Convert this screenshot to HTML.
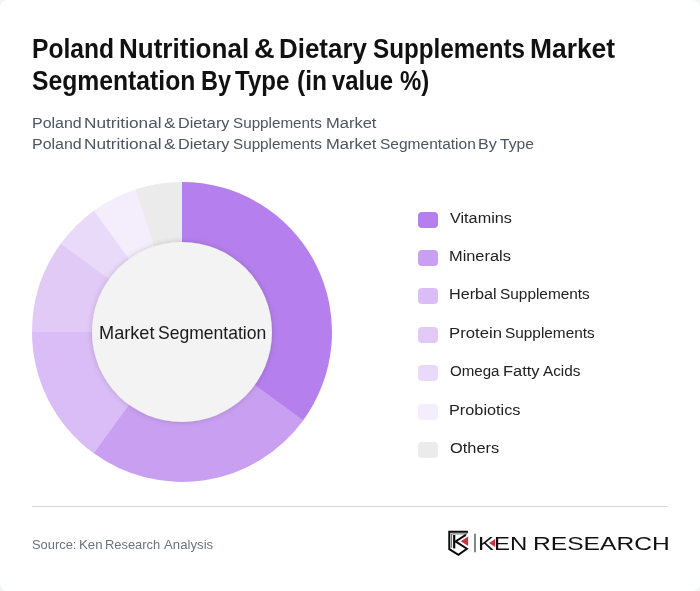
<!DOCTYPE html>
<html lang="en">
<head>
<meta charset="utf-8">
<title>Poland Nutritional &amp; Dietary Supplements Market Segmentation By Type</title>
<style>
  html,body{margin:0;padding:0;}
  body{width:700px;height:591px;background:#f3f4f6;overflow:hidden;font-family:"Liberation Sans",sans-serif;}
  .card{position:absolute;left:0;top:0;width:700px;height:591px;background:#fff;border-radius:8px;overflow:hidden;}
  h1,p,ul,li{margin:0;padding:0;list-style:none;font-size:inherit;font-weight:inherit;}
  .w{position:absolute;line-height:1;white-space:nowrap;transform-origin:0 0;}
  .title .w{font-size:27.5px;font-weight:700;color:#111;}
  .sub .w{font-size:15.5px;color:#4b5563;}
  .center .w{font-size:18.5px;color:#1a1a1a;}
  .legend .w{font-size:15.5px;color:#222;}
  .src .w{font-size:13.5px;color:#6b7280;}
  .brand .w{font-size:18.6px;color:#111;}
  .sw{position:absolute;left:418px;width:20px;height:16px;border-radius:4px;}
  .chart{position:absolute;left:0;top:0;}
  .hr{position:absolute;left:32px;top:506px;width:636px;height:1px;background:#d5d8de;}
  .logo{position:absolute;left:440px;top:520px;}
</style>
</head>
<body>
<div class="card">
  <h1 class="title"><span class="w" style="left:32.03px;top:35.0px;transform:scaleX(0.8955)">Poland</span> <span class="w" style="left:119.34px;top:35.0px;transform:scaleX(0.9465)">Nutritional</span> <span class="w" style="left:254.3px;top:35.0px;transform:scaleX(1.0366)">&amp;</span> <span class="w" style="left:279.35px;top:35.0px;transform:scaleX(0.9425)">Dietary</span> <span class="w" style="left:373.34px;top:35.0px;transform:scaleX(0.8808)">Supplements</span> <span class="w" style="left:530.32px;top:35.0px;transform:scaleX(0.9595)">Market</span>
    <span class="w" style="left:32.33px;top:67.0px;transform:scaleX(0.8982)">Segmentation</span> <span class="w" style="left:200.51px;top:67.0px;transform:scaleX(0.8541)">By</span> <span class="w" style="left:235.38px;top:67.0px;transform:scaleX(0.8754)">Type</span> <span class="w" style="left:297.06px;top:67.0px;transform:scaleX(0.8918)">(in</span> <span class="w" style="left:332.38px;top:67.0px;transform:scaleX(0.8667)">value</span> <span class="w" style="left:400.35px;top:67.0px;transform:scaleX(0.8698)">%)</span></h1>
  <p class="sub"><span class="w" style="left:31.81px;top:115.0px;transform:scaleX(1.0304)">Poland</span> <span class="w" style="left:83.61px;top:115.0px;transform:scaleX(1.1111)">Nutritional</span> <span class="w" style="left:163.95px;top:115.0px;transform:scaleX(1.1053)">&amp;</span> <span class="w" style="left:177.69px;top:115.0px;transform:scaleX(1.0471)">Dietary</span> <span class="w" style="left:233.26px;top:115.0px;transform:scaleX(0.9826)">Supplements</span> <span class="w" style="left:325.67px;top:115.0px;transform:scaleX(1.0652)">Market</span></p>
  <p class="sub"><span class="w" style="left:31.81px;top:136.0px;transform:scaleX(1.0304)">Poland</span> <span class="w" style="left:83.61px;top:136.0px;transform:scaleX(1.1111)">Nutritional</span> <span class="w" style="left:163.95px;top:136.0px;transform:scaleX(1.1053)">&amp;</span> <span class="w" style="left:177.69px;top:136.0px;transform:scaleX(1.0471)">Dietary</span> <span class="w" style="left:233.26px;top:136.0px;transform:scaleX(0.9826)">Supplements</span> <span class="w" style="left:325.67px;top:136.0px;transform:scaleX(1.0652)">Market</span> <span class="w" style="left:379.85px;top:136.0px;transform:scaleX(1.0016)">Segmentation</span> <span class="w" style="left:478.3px;top:136.0px;transform:scaleX(1.0388)">By</span> <span class="w" style="left:499.75px;top:136.0px;transform:scaleX(1.0076)">Type</span></p>

  <svg class="chart" width="700" height="591" viewBox="0 0 700 591">
    <defs>
      <filter id="sh" x="-20%" y="-20%" width="140%" height="140%">
        <feGaussianBlur in="SourceAlpha" stdDeviation="3"/>
        <feComponentTransfer><feFuncA type="linear" slope="0.18"/></feComponentTransfer>
        <feMerge><feMergeNode/><feMergeNode in="SourceGraphic"/></feMerge>
      </filter>
    </defs>
    <g>
      <path d="M180.69 182.01A150 150 0 0 1 302.58 421.22L252.74 384.34A88 88 0 0 0 181.23 244.00Z" fill="#b580ed"/>
      <path d="M303.35 420.17A150 150 0 0 1 92.78 452.58L129.66 402.74A88 88 0 0 0 253.19 383.73Z" fill="#c9a0f1"/>
      <path d="M93.83 453.35A150 150 0 0 1 32.01 330.69L94.00 331.23A88 88 0 0 0 130.27 403.19Z" fill="#dabdf6"/>
      <path d="M32.00 332.00A150 150 0 0 1 61.42 242.78L111.26 279.66A88 88 0 0 0 94.00 332.00Z" fill="#e2caf7"/>
      <path d="M60.65 243.83A150 150 0 0 1 94.89 209.88L130.90 260.36A88 88 0 0 0 110.81 280.27Z" fill="#eadafa"/>
      <path d="M93.83 210.65A150 150 0 0 1 136.89 188.94L155.54 248.07A88 88 0 0 0 130.27 260.81Z" fill="#f4edfc"/>
      <path d="M135.65 189.34A150 150 0 0 1 182.00 182.00L182.00 244.00A88 88 0 0 0 154.81 248.31Z" fill="#ebebeb"/>
    </g>
    <circle cx="182" cy="332" r="90" fill="#f3f3f3" filter="url(#sh)"/>
  </svg>
  <div class="center"><span class="w" style="left:98.53px;top:324.0px;transform:scaleX(0.9818)">Market</span> <span class="w" style="left:157.85px;top:324.0px;transform:scaleX(0.9482)">Segmentation</span></div>

  <ul class="legend">
    <li><i class="sw" style="top:212px;background:#b580ed"></i><span class="w" style="left:450.24px;top:210.0px;transform:scaleX(1.0455)">Vitamins</span></li>
    <li><i class="sw" style="top:250px;background:#c9a0f1"></i><span class="w" style="left:449.38px;top:248.0px;transform:scaleX(1.0555)">Minerals</span></li>
    <li><i class="sw" style="top:288px;background:#dabdf6"></i><span class="w" style="left:449.49px;top:286.0px;transform:scaleX(1.0451)">Herbal</span> <span class="w" style="left:499.86px;top:286.0px;transform:scaleX(0.9927)">Supplements</span></li>
    <li><i class="sw" style="top:327px;background:#e2caf7"></i><span class="w" style="left:449.45px;top:325.0px;transform:scaleX(1.0781)">Protein</span> <span class="w" style="left:505.06px;top:325.0px;transform:scaleX(0.9916)">Supplements</span></li>
    <li><i class="sw" style="top:365px;background:#eadafa"></i><span class="w" style="left:450.07px;top:363.0px;transform:scaleX(0.974)">Omega</span> <span class="w" style="left:502.97px;top:363.0px;transform:scaleX(1.0606)">Fatty</span> <span class="w" style="left:543.4px;top:363.0px;transform:scaleX(0.9879)">Acids</span></li>
    <li><i class="sw" style="top:404px;background:#f4edfc"></i><span class="w" style="left:449.39px;top:402.0px;transform:scaleX(1.0506)">Probiotics</span></li>
    <li><i class="sw" style="top:442px;background:#ebebeb"></i><span class="w" style="left:450.01px;top:440.0px;transform:scaleX(1.0564)">Others</span></li>
  </ul>

  <div class="hr"></div>
  <p class="src"><span class="w" style="left:31.78px;top:538.0px;transform:scaleX(0.9551)">Source:</span> <span class="w" style="left:79.02px;top:538.0px;transform:scaleX(0.9798)">Ken</span> <span class="w" style="left:105.44px;top:538.0px;transform:scaleX(0.9554)">Research</span> <span class="w" style="left:164.0px;top:538.0px;transform:scaleX(0.9789)">Analysis</span></p>
  <svg class="logo" width="240" height="50" viewBox="440 520 240 50">
    <g fill="none" stroke="#0a0a0a" stroke-width="2" stroke-linejoin="miter" stroke-miterlimit="2" stroke-linecap="butt">
      <path d="M467.9 531.8H449.3V549.2L458.4 554.8L466.9 548.7L455.6 541.4L465.8 534.9"/>
      <path d="M454.2 535V548.4" stroke-width="2.2"/>
      <path d="M466.3 533.9H451.6V547.8" stroke="#222" stroke-width="0.7"/>
      <path d="M467.8 532.2L465.6 535" stroke-width="0.7"/>
    </g>
    <path d="M460.8 541.3L468.1 536.4V545.9Z" fill="#cc3340"/>
    <path d="M475 533.7V552.3" stroke="#333" stroke-width="1.2" fill="none"/>
    <path d="M489 543L495.2 539.1V546.9Z" fill="#cc3340"/>
  </svg>
  <div class="brand"><span class="w" style="left:477.77px;top:535.0px;transform:scaleX(1.2879);letter-spacing:0.01px">KEN</span> <span class="w" style="left:533.42px;top:535.0px;transform:scaleX(1.3227);letter-spacing:0.01px">RESEARCH</span></div>
</div>
</body>
</html>
